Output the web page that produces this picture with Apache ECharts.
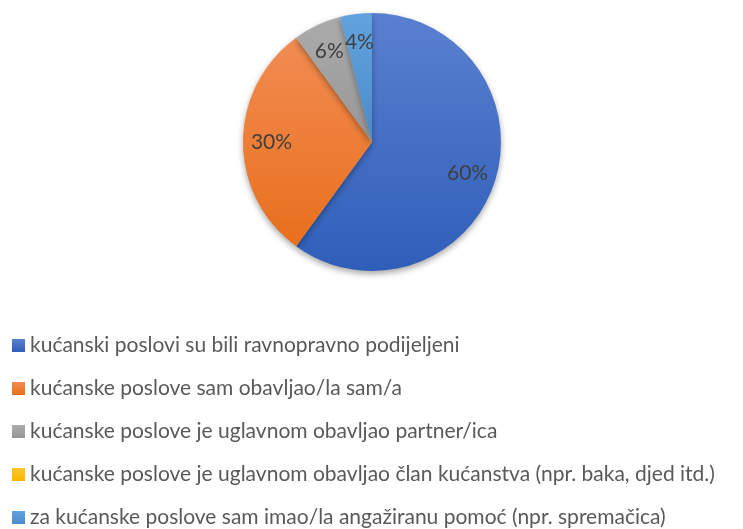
<!DOCTYPE html>
<html>
<head>
<meta charset="utf-8">
<script src="https://cdn.jsdelivr.net/npm/echarts@6/dist/echarts.min.js"></script>
<style>
  html, body { margin: 0; padding: 0; background: #fff; }
  #chart { width: 743px; height: 529px; }
</style>
</head>
<body>
<div id="chart"></div>
<script>
// podaci
const categories = [
    "kućanski poslovi su bili ravnopravno podijeljeni",
    "kućanske poslove sam obavljao/la sam/a",
    "kućanske poslove je uglavnom obavljao partner/ica",
    "kućanske poslove je uglavnom obavljao član kućanstva (npr. baka, djed itd.)",
    "za kućanske poslove sam imao/la angažiranu pomoć (npr. spremačica)",
];
const values = [60, 30, 6, 0, 4];
const colorsTop = ["#5A80D0", "#F28C52", "#ABABAB", "#FFC72A", "#62A3DE"];
const colorsBottom = ["#2F5EB9", "#E86F1C", "#979797", "#F5B800", "#4A8ACB"];

const chart = echarts.init(document.getElementById("chart"));

const pieData = categories.map((name, i) => ({
    name,
    value: values[i],
    itemStyle: {
        color: new echarts.graphic.LinearGradient(0, 0, 0, 1, [
            { offset: 0, color: colorsTop[i] },
            { offset: 1, color: colorsBottom[i] },
        ]),
    },
}));

// prozirni sloj samo za oznake (postotke bliže rubu)
const labelData = categories.map((name, i) => ({
    name,
    value: values[i],
    label: { show: values[i] > 0 },
}));

chart.setOption({
    animation: false,
    legend: {
        orient: "vertical",
        left: 12,
        top: 335,
        padding: 0,
        itemWidth: 13,
        itemHeight: 13,
        itemGap: 22,
        icon: "rect",
        data: categories,
        textStyle: { fontFamily: "Lato", fontSize: 21, color: "#595959", lineHeight: 20 },
    },
    series: [
        {
            type: "pie",
            center: [372, 142],
            radius: 129,
            startAngle: 90,
            clockwise: true,
            data: pieData,
            label: { show: false },
            labelLine: { show: false },
            itemStyle: {
                shadowBlur: 6,
                shadowOffsetY: 3,
                shadowColor: "rgba(0,0,0,0.35)",
            },
            emphasis: { disabled: true },
        },
        {
            type: "pie",
            center: [372, 142],
            radius: [66, 129],
            startAngle: 90,
            clockwise: true,
            silent: true,
            data: labelData,
            itemStyle: { color: "rgba(0,0,0,0)" },
            label: {
                position: "inside",
                formatter: "{c}%",
                fontFamily: "Lato",
                fontSize: 21,
                color: "#404040",
            },
            labelLine: { show: false },
            emphasis: { disabled: true },
        },
    ],
});
</script>
</body>
</html>
